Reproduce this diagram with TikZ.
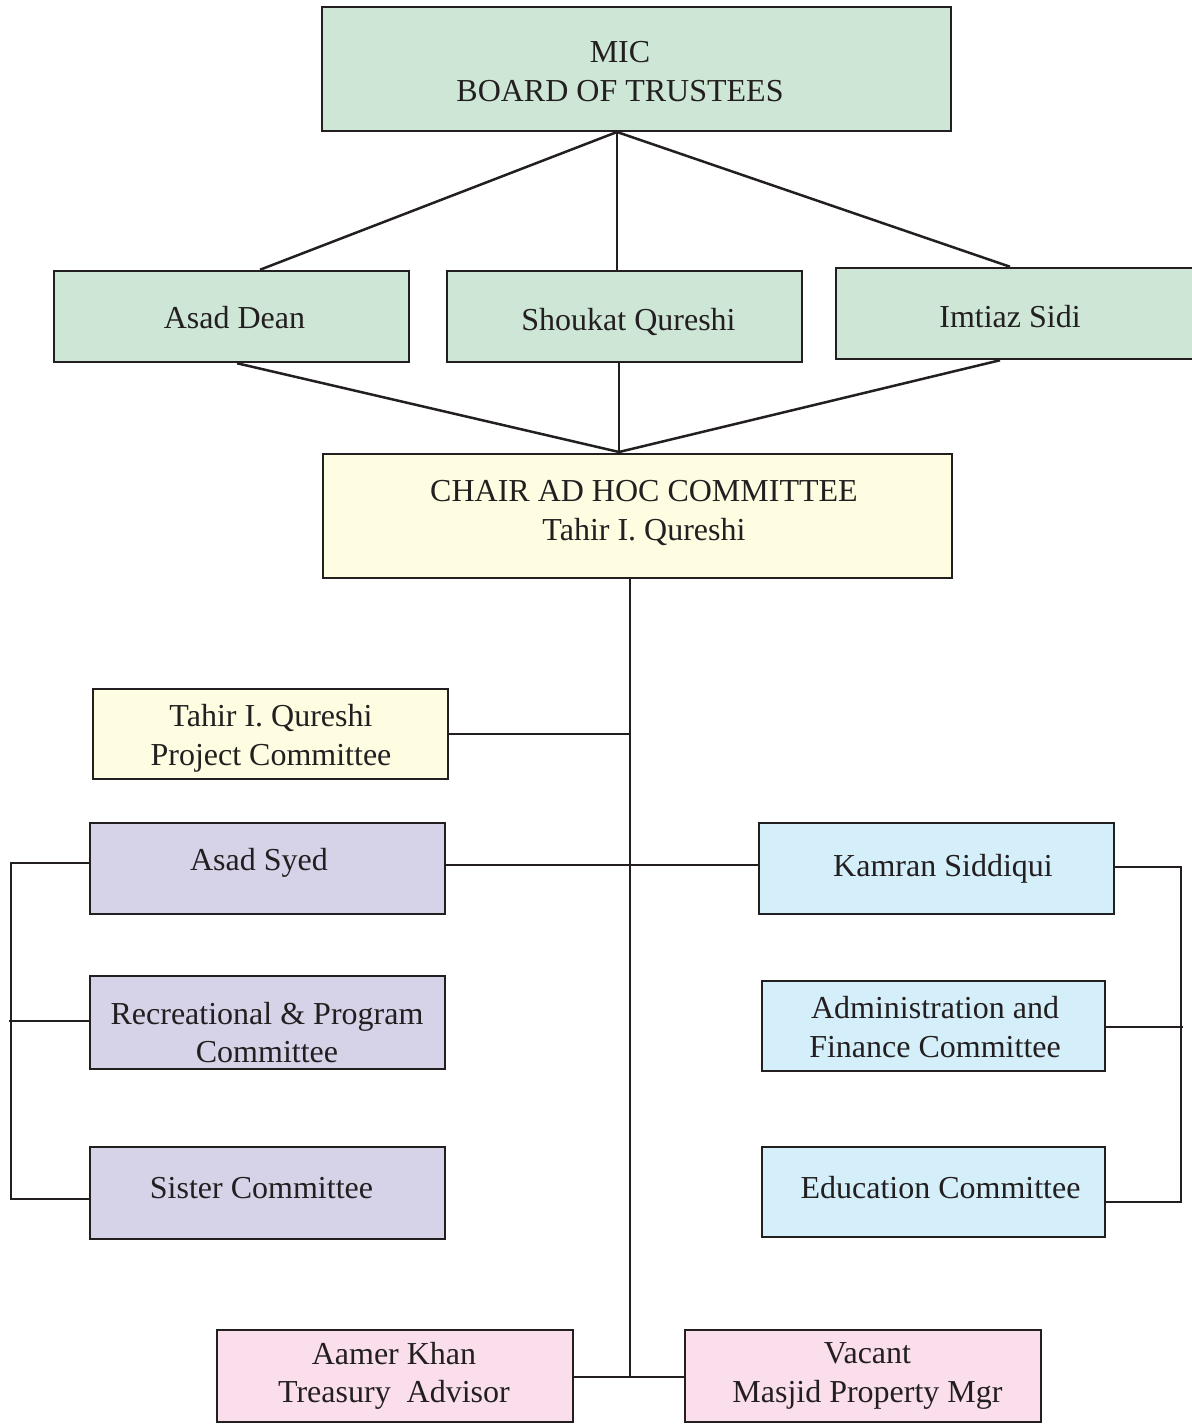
\documentclass[tikz,border=0pt]{standalone}
\usepackage{fontspec}
\setmainfont{Liberation Serif}
\definecolor{linec}{HTML}{231F20}
\definecolor{greenf}{HTML}{CDE6D6}
\definecolor{yellowf}{HTML}{FEFCE1}
\definecolor{lavf}{HTML}{D6D2E8}
\definecolor{bluef}{HTML}{D4EEFA}
\definecolor{pinkf}{HTML}{FADEEC}
\begin{document}
\begin{tikzpicture}[x=1pt,y=-1pt,
  box/.style={draw=linec, line width=2.5pt, inner sep=0pt},
  txt/.style={align=center, text=linec, inner sep=0pt,
    font=\fontsize{32}{38.5}\selectfont},
  onel/.style={txt, text height=21pt, text depth=7pt},
  conn/.style={draw=linec, line width=2.5pt}]
\useasboundingbox (0,0) rectangle (1191,1426);
\fill[white] (0,0) rectangle (1191,1426);
% boxes
\node[box, fill=greenf, minimum width=629, minimum height=124] (mic) at (636.5,69) {};
\node[box, fill=greenf, minimum width=355, minimum height=91] (ad) at (231.5,316.5) {};
\node[box, fill=greenf, minimum width=355, minimum height=91] (sq) at (624.5,316.5) {};
\node[box, fill=greenf, minimum width=360, minimum height=91] (is) at (1016,313.5) {};
\node[box, fill=yellowf, minimum width=629, minimum height=124] (chair) at (637.5,516) {};
\node[box, fill=yellowf, minimum width=355, minimum height=90] (tq) at (270.5,734) {};
\node[box, fill=lavf, minimum width=355, minimum height=91] (as) at (267.5,868.5) {};
\node[box, fill=lavf, minimum width=355, minimum height=93] (rc) at (267.5,1022.5) {};
\node[box, fill=lavf, minimum width=355, minimum height=92] (sc) at (267.5,1193) {};
\node[box, fill=bluef, minimum width=355, minimum height=91] (ks) at (936.5,868.5) {};
\node[box, fill=bluef, minimum width=343, minimum height=90] (af) at (933.5,1026) {};
\node[box, fill=bluef, minimum width=343, minimum height=90] (ec) at (933.5,1192) {};
\node[box, fill=pinkf, minimum width=356, minimum height=92] (ak) at (395,1376) {};
\node[box, fill=pinkf, minimum width=356, minimum height=92] (vm) at (863,1376) {};
% texts
\node[txt] (micT) at (620,71.5) {MIC\\BOARD OF TRUSTEES};
\node[onel] (adT) at (234.5,321.5) {Asad Dean};
\node[onel] (sqT) at (628.5,323.5) {Shoukat Qureshi};
\node[onel] (isT) at (1010,320.5) {Imtiaz Sidi};
\node[txt] (chairT) at (644,513) {CHAIR AD HOC COMMITTEE\\Tahir I. Qureshi};
\node[txt] (tqT) at (271,738.5) {Tahir I. Qureshi\\Project Committee};
\node[onel] (asT) at (259,863.5) {Asad Syed};
\node[txt] (rcT) at (267,1032.5) {Recreational \& Program\\Committee};
\node[onel] (scT) at (261.5,1191.5) {Sister Committee};
\node[onel] (ksT) at (943,869.5) {Kamran Siddiqui};
\node[txt] (afT) at (935,1027) {Administration and\\Finance Committee};
\node[onel] (ecT) at (940.5,1191.5) {Education Committee};
\node[txt] (akT) at (394,1376) {Aamer Khan\\Treasury\ \ Advisor};
\node[txt] (vmT) at (867.5,1376) {Vacant\\Masjid Property Mgr};
% hubs
\coordinate (hub1) at (617,132);
\coordinate (hub2) at (619,452);
\coordinate (vb) at (630,1377);
% connectors
\draw[conn] (hub1) -- (ad.north -| 260,0);
\draw[conn] (hub1) -- (sq.north -| hub1);
\draw[conn] (hub1) -- (is.north -| 1010,0);
\draw[conn] (ad.south -| 237,0) -- (hub2);
\draw[conn] (sq.south -| hub2) -- (hub2);
\draw[conn] (is.south -| 1000,0) -- (hub2);
\draw[conn] (chair.south -| vb) -- (vb);
\draw[conn] (tq.east) -- (tq.east -| vb);
\draw[conn] (as.east |- 0,865) -- (ks.west |- 0,865);
\draw[conn] (ak.east |- vb) -- (vm.west |- vb);
\draw[conn] (as.west |- 0,863) -- (11,863) |- (sc.west |- 0,1199);
\draw[conn] (rc.west |- 0,1021) -- (9,1021);
\draw[conn] (ks.east |- 0,867) -- (1181,867) |- (ec.east |- 0,1202);
\draw[conn] (af.east |- 0,1027) -- (1183,1027);
\end{tikzpicture}
\end{document}
